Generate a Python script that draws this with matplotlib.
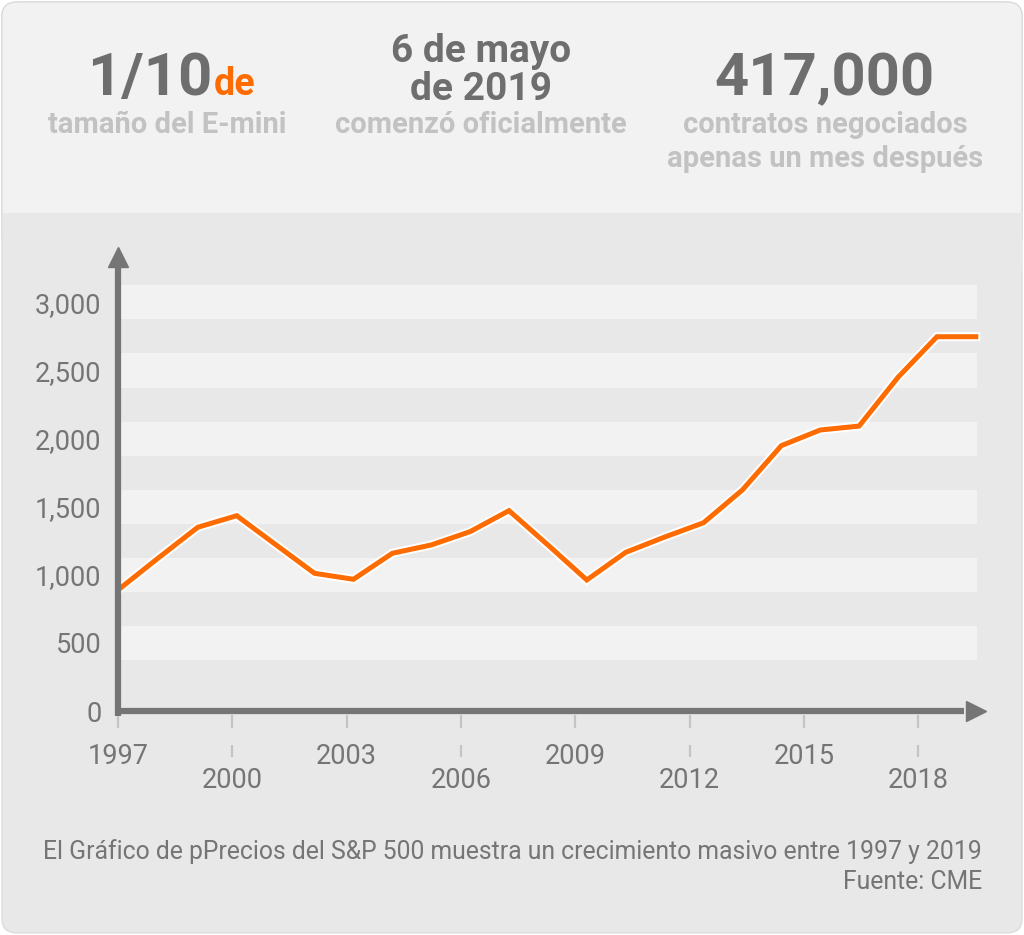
import matplotlib.pyplot as plt
from matplotlib.patches import FancyBboxPatch, Rectangle
import matplotlib.patheffects as pe

plt.rcParams['font.family'] = ['Roboto', 'DejaVu Sans']

# S&P 500 yearly level
years = list(range(1997, 2020))
prices = [900, 1127, 1349, 1434, 1222, 1011, 967, 1158, 1219, 1317, 1471, 1219,
          962, 1165, 1277, 1382, 1623, 1948, 2063, 2092, 2450, 2748, 2748]

tick_years = [1997, 2000, 2003, 2006, 2009, 2012, 2015, 2018]
ytick_vals = [0, 500, 1000, 1500, 2000, 2500, 3000]
band_vals = [500, 1000, 1500, 2000, 2500, 3000]

GRAY = '#757575'
ORANGE = '#fe6b00'
W, H = 1024, 935

fig = plt.figure(figsize=(W / 100, H / 100), dpi=100)
fig.patch.set_facecolor('white')


def fx(px):
    return px / W


def fy(py):
    return 1 - py / H


# card background
fig.patches.append(FancyBboxPatch((fx(2), fy(933)), fx(1020), 931 / H,
                                  boxstyle='round,pad=0,rounding_size=0.015',
                                  transform=fig.transFigure, fc='#e8e8e8', ec='#d8d8d8',
                                  lw=0.8, zorder=-3))
fig.patches.append(FancyBboxPatch((fx(2), fy(250)), fx(1020), 248 / H,
                                  boxstyle='round,pad=0,rounding_size=0.015',
                                  transform=fig.transFigure, fc='#f2f2f2', ec='#d8d8d8',
                                  lw=0.8, zorder=-2))
fig.patches.append(Rectangle((fx(2.5), fy(270)), fx(1019), 57 / H,
                             transform=fig.transFigure, fc='#e8e8e8', ec='none', zorder=-1))

# header figures
fig.text(fx(212), fy(95), '1/10', ha='right', va='baseline', fontsize=43,
         fontweight='bold', color='#6e6e6e')
fig.text(fx(214), fy(95), 'de', ha='left', va='baseline', fontsize=27,
         fontweight='bold', color=ORANGE)
fig.text(fx(167), fy(125), 'tamaño del E-mini', ha='center', va='center',
         fontsize=21, fontweight='bold', color='#c2c2c2')

fig.text(fx(481), fy(51), '6 de mayo', ha='center', va='center', fontsize=28,
         fontweight='bold', color='#6e6e6e')
fig.text(fx(481), fy(90), 'de 2019', ha='center', va='center', fontsize=28,
         fontweight='bold', color='#6e6e6e')
fig.text(fx(481), fy(125), 'comenzó oficialmente', ha='center', va='center',
         fontsize=21, fontweight='bold', color='#c2c2c2')

fig.text(fx(825), fy(95), '417,000', ha='center', va='baseline', fontsize=43,
         fontweight='bold', color='#6e6e6e')
fig.text(fx(825), fy(125), 'contratos negociados', ha='center', va='center',
         fontsize=21, fontweight='bold', color='#c2c2c2')
fig.text(fx(825), fy(159), 'apenas un mes después', ha='center', va='center',
         fontsize=21, fontweight='bold', color='#c2c2c2')

# plot area: x 118..986 px, y 250..711 px
ax = fig.add_axes([fx(118), fy(711), fx(986 - 118), (711 - 250) / H])
ax.set_zorder(2)
ax.set_facecolor('none')
px_per_unit = 68.1 / 500
ax.set_ylim(0, (711 - 250) / px_per_unit)
step = 38.9
x0 = 1997 - 2 / step
ax.set_xlim(x0, x0 + (986 - 118) / step)
for s in ax.spines.values():
    s.set_visible(False)

# alternating bands
band_right = (977 - 118) / (986 - 118)
for v in band_vals:
    ax.axhspan(v - 125, v + 125, xmin=0, xmax=band_right, color='#f2f2f2', lw=0, zorder=0)

ax.plot(years, prices, color=ORANGE, lw=3.6, solid_joinstyle='miter', zorder=3,
        path_effects=[pe.Stroke(linewidth=6.5, foreground='white'), pe.Normal()])

# axis arrows
ax.plot([0, 0], [-0.01, 0.96], transform=ax.transAxes, color=GRAY, lw=4.5,
        clip_on=False, zorder=4, solid_capstyle='butt')
ax.plot([0], [0.985], marker='^', ms=14.5, color=GRAY, transform=ax.transAxes,
        clip_on=False, zorder=4)
ax.plot([-0.004, 0.975], [0, 0], transform=ax.transAxes, color=GRAY, lw=4.5,
        clip_on=False, zorder=4, solid_capstyle='butt')
ax.plot([0.988], [0.0], marker='>', ms=14.5, color=GRAY, transform=ax.transAxes,
        clip_on=False, zorder=4)

# y tick labels
ax.set_yticks(ytick_vals)
ax.set_yticklabels([f'{v:,}' for v in ytick_vals])
ax.tick_params(axis='y', length=0, pad=12, labelsize=19.5, labelcolor=GRAY)

# x ticks: short dashes, lower row has a second dash
ax.set_xticks([])
tick_scale = 38.1 / step


def ydata(py):
    return (711 - py) / px_per_unit


for i, t in enumerate(tick_years):
    xp = 1997 + (t - 1997) * tick_scale - 2 / step
    ax.plot([xp, xp], [ydata(715), ydata(728)], color='#c4c4c4', lw=1.6,
            clip_on=False, solid_capstyle='butt')
    if i % 2 == 0:
        ax.text(xp, ydata(756), str(t), ha='center', va='center', fontsize=19.5,
                color=GRAY)
    else:
        ax.plot([xp, xp], [ydata(745), ydata(757)], color='#c4c4c4', lw=1.6,
                clip_on=False, solid_capstyle='butt')
        ax.text(xp, ydata(780), str(t), ha='center', va='center', fontsize=19.5,
                color=GRAY)

# caption
fig.text(fx(982), fy(852), 'El Gráfico de pPrecios del S&P 500 muestra un crecimiento masivo entre 1997 y 2019',
         ha='right', va='center', fontsize=17.85, color=GRAY)
fig.text(fx(982), fy(882), 'Fuente: CME', ha='right', va='center', fontsize=17.85, color=GRAY)

fig.savefig('out.png', dpi=100, facecolor=fig.get_facecolor())
